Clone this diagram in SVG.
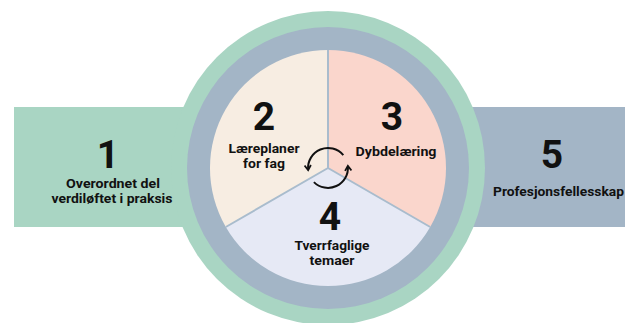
<svg xmlns="http://www.w3.org/2000/svg" width="625" height="323" viewBox="0 0 625 323">
<style>
.num{font-family:Roboto,"Liberation Sans",sans-serif;font-weight:700;font-size:39px;fill:#111;text-anchor:middle}
.lbl{font-family:Roboto,"Liberation Sans",sans-serif;font-weight:700;font-size:12.8px;fill:#111;text-anchor:middle}
.sep{stroke:#a9bccd;stroke-width:2;fill:none}
.arr{stroke:#111;stroke-width:2;fill:none;marker-end:url(#ah)}
</style>
<defs>
<marker id="ah" markerUnits="userSpaceOnUse" viewBox="0 0 10 10" refX="7" refY="5" markerWidth="8" markerHeight="8" orient="auto">
<path d="M1.5,1 L7.5,5 L1.5,9" fill="none" stroke="#111" stroke-width="2.2" stroke-linejoin="miter"/>
</marker>
</defs>
<rect width="625" height="323" fill="#ffffff"/>
<g id="node-1">
<rect x="14" y="107" width="240" height="120" fill="#a9d5c3"/>
<text class="num" x="108" y="168">1</text>
<text class="lbl" x="113" y="188" textLength="94" lengthAdjust="spacingAndGlyphs">Overordnet del</text>
<text class="lbl" x="112" y="203" textLength="121" lengthAdjust="spacingAndGlyphs">verdiløftet i praksis</text>
</g>
<g id="node-5">
<rect x="400" y="107" width="225" height="120" fill="#a3b5c6"/>
<text class="num" x="552" y="168">5</text>
<text class="lbl" x="493" y="196" style="text-anchor:start" textLength="131" lengthAdjust="spacingAndGlyphs">Profesjonsfellesskap</text>
</g>
<g id="ring">
<circle cx="328" cy="168" r="157" fill="#a9d5c3"/>
<circle cx="328" cy="168" r="141" fill="#a3b5c6"/>
</g>
<g id="node-2">
<path d="M328,168 L328,50 A118,118 0 0 0 225.8,227 Z" fill="#f7ede2"/>
<text class="num" x="264" y="130">2</text>
<text class="lbl" x="264" y="152.5" textLength="71" lengthAdjust="spacingAndGlyphs">Læreplaner</text>
<text class="lbl" x="264" y="167.5" textLength="42" lengthAdjust="spacingAndGlyphs">for fag</text>
</g>
<g id="node-3">
<path d="M328,168 L328,50 A118,118 0 0 1 430.2,227 Z" fill="#fad6cc"/>
<text class="num" x="392" y="130">3</text>
<text class="lbl" x="396" y="156" textLength="81" lengthAdjust="spacingAndGlyphs">Dybdelæring</text>
</g>
<g id="node-4">
<path d="M328,168 L225.8,227 A118,118 0 0 0 430.2,227 Z" fill="#e6e9f5"/>
<text class="num" x="330" y="230">4</text>
<text class="lbl" x="332" y="250" textLength="75" lengthAdjust="spacingAndGlyphs">Tverrfaglige</text>
<text class="lbl" x="332" y="265" textLength="45" lengthAdjust="spacingAndGlyphs">temaer</text>
</g>
<g id="separators">
<path class="sep" d="M328,168 L328,50 M328,168 L225.8,227 M328,168 L430.2,227"/>
</g>
<g id="connectors">
<path class="arr" d="M343.3,155.1 A20,20 0 0 0 308.1,169.7"/>
<path class="arr" d="M313.9,182.1 A20,20 0 0 0 347.9,166.3"/>
</g>
</svg>
